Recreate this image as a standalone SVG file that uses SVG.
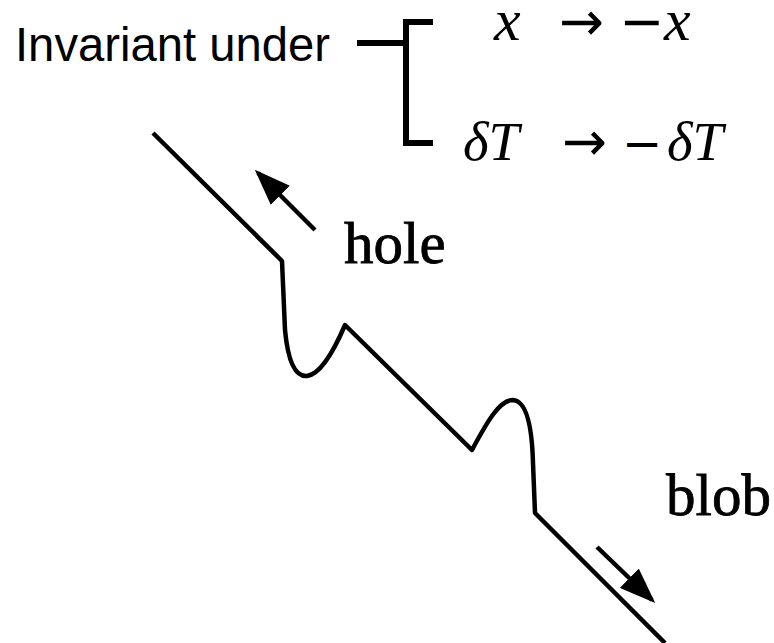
<svg xmlns="http://www.w3.org/2000/svg" width="774" height="643" viewBox="0 0 774 643">
<style>
.sans{font-family:"Liberation Sans",Arial,sans-serif;fill:#000}
.math{font-family:"Liberation Serif","DejaVu Serif",serif;font-style:italic;fill:#000}
.sym{font-family:"DejaVu Sans","Liberation Sans",sans-serif;font-style:normal;fill:#000}
.lbl{font-family:"Liberation Serif","DejaVu Serif",serif;font-size:59px;fill:#000;stroke:#000;stroke-width:0.8}
.ln{fill:none;stroke:#000;stroke-width:4.5;stroke-linejoin:round;stroke-linecap:butt}
.br{fill:none;stroke:#000;stroke-width:6}
</style>
<defs>
<marker id="ah" markerWidth="8" markerHeight="6" refX="7" refY="3" orient="auto" markerUnits="strokeWidth">
<path d="M0,0 L8,3 L0,6 Z" fill="#000"/>
</marker>
</defs>
<rect width="774" height="643" fill="#fff"/>
<g id="title">
<text class="sans" x="15" y="61" font-size="48" textLength="315" lengthAdjust="spacingAndGlyphs">Invariant under</text>
</g>
<g id="connectors">
<path class="br" d="M357,43 H406 M433,22 H406 V143 H433"/>
<path class="ln" d="M153,133 L282,261 L285,330 C288,362 295,377 307,376 C322,374 336,346 345,325 L472,450 C488,420 500,400 513,400 C526,401 532,425 533,463 L535,513 L665,643"/>
<line class="ln" x1="315" y1="230" x2="258" y2="173" stroke-width="4" marker-end="url(#ah)"/>
<line class="ln" x1="597" y1="547" x2="652" y2="600" stroke-width="4" marker-end="url(#ah)"/>
</g>
<g id="eq1">
<text class="math" x="494" y="40" font-size="60">x</text>
<text class="sym" x="559" y="40" font-size="54" textLength="45" lengthAdjust="spacingAndGlyphs">→</text>
<text class="math" y="40" font-size="60"><tspan class="sym" x="619" font-size="54">−</tspan><tspan x="664">x</tspan></text>
</g>
<g id="eq2">
<text class="math" x="463" y="160" font-size="55">δT</text>
<text class="sym" x="562" y="160" font-size="54" textLength="45" lengthAdjust="spacingAndGlyphs">→</text>
<text class="math" y="160" font-size="55"><tspan class="sym" x="622" font-size="48">−</tspan><tspan x="667">δT</tspan></text>
</g>
<g id="hole">
<text class="lbl" x="344" y="263">hole</text>
</g>
<g id="blob">
<text class="lbl" x="666" y="515">blob</text>
</g>
</svg>
